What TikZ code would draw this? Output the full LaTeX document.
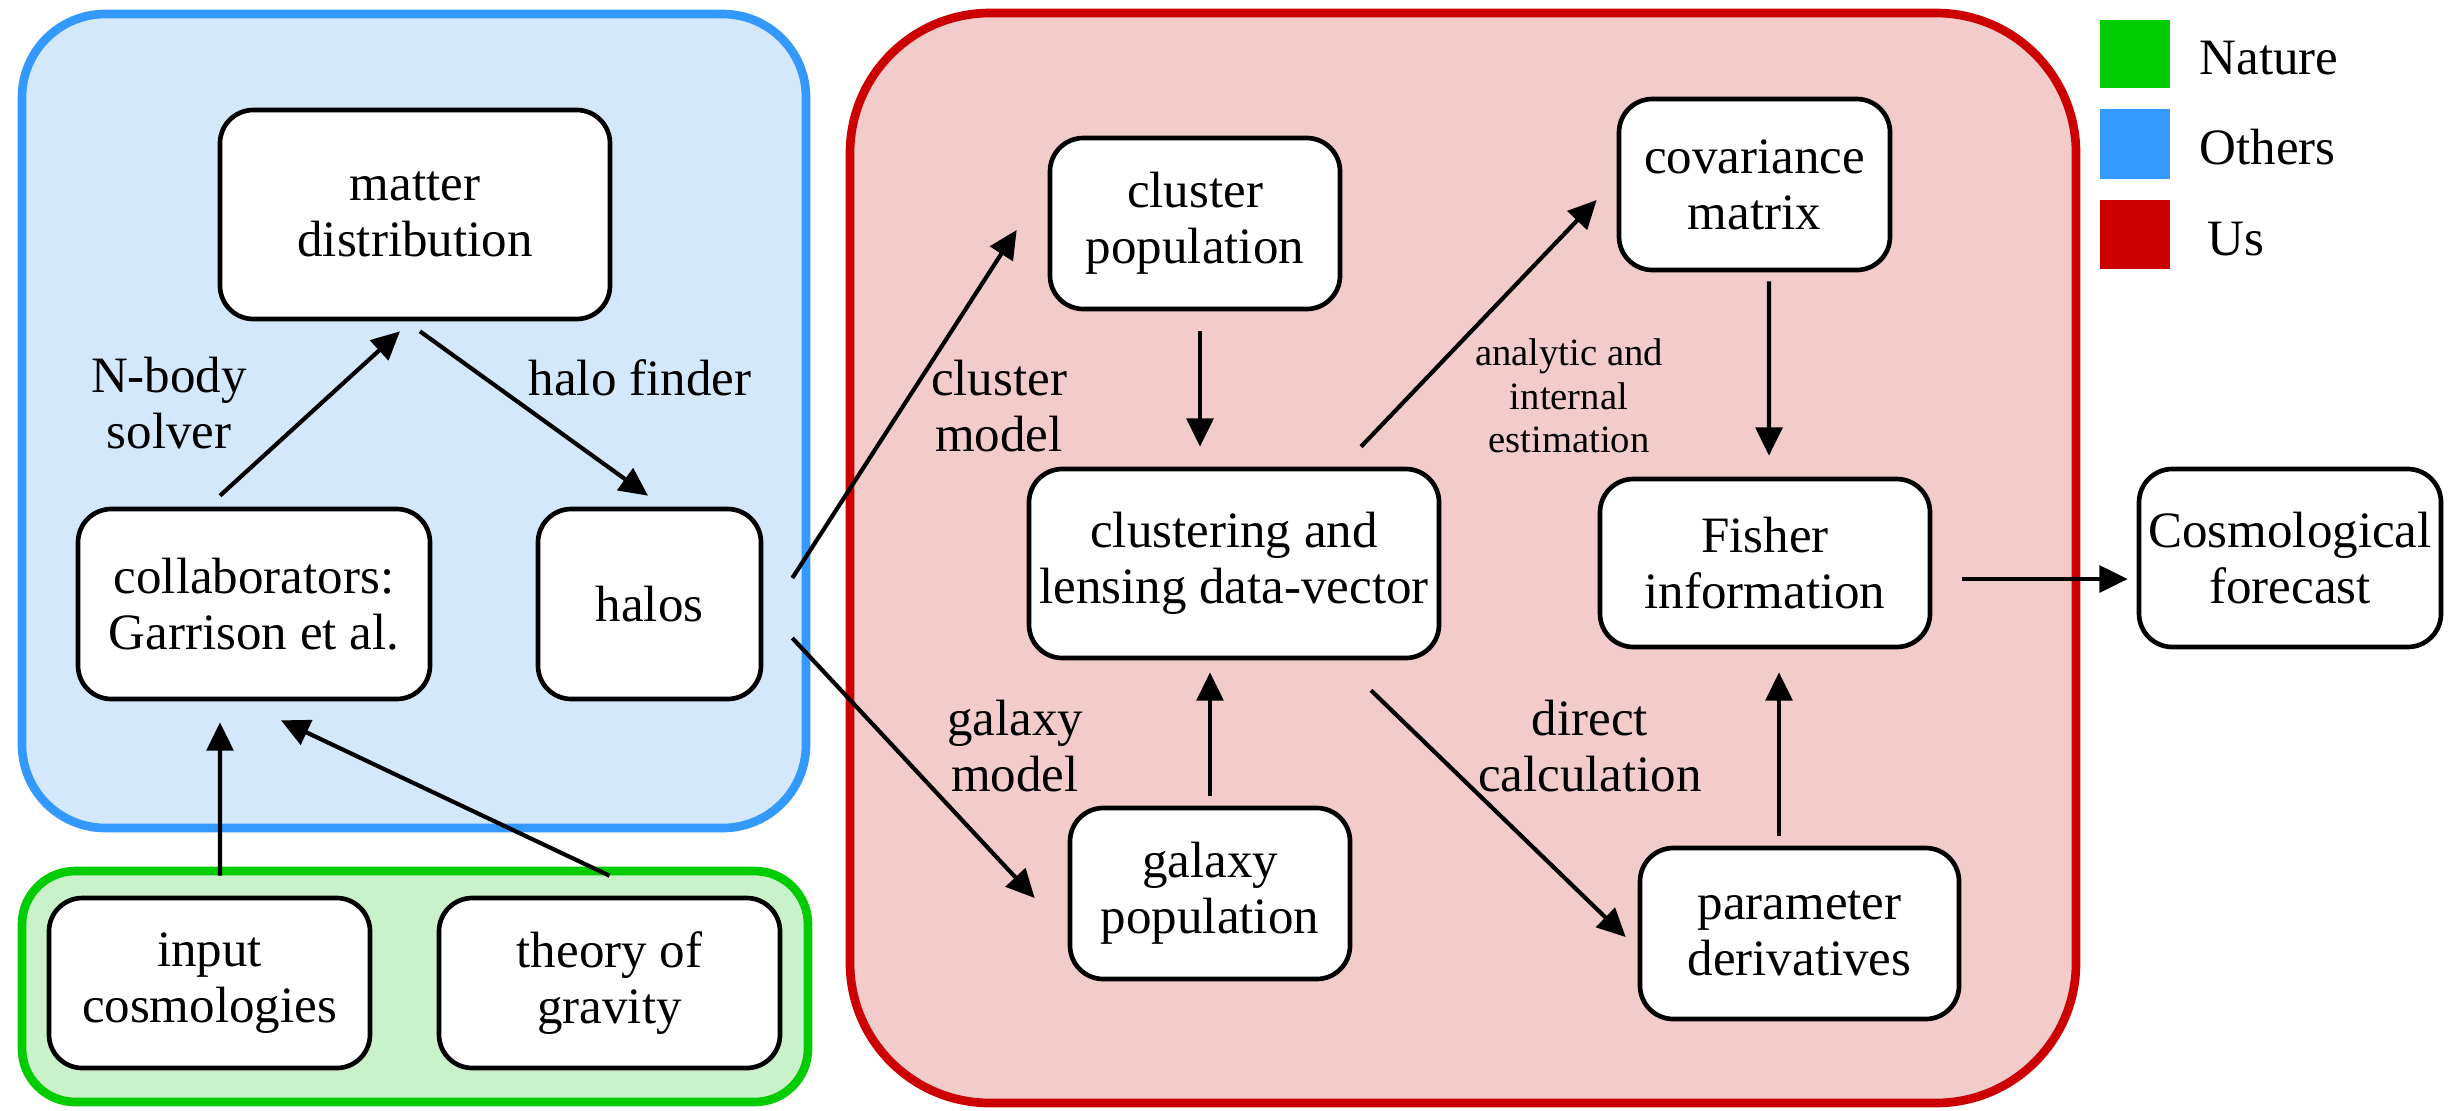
\documentclass[tikz,border=0pt]{standalone}
\usepackage{fontspec}
\setmainfont{Liberation Serif}
\usetikzlibrary{calc,arrows.meta}
\definecolor{bluefill}{HTML}{D4E8FC}
\definecolor{blueline}{HTML}{3399FF}
\definecolor{greenfill}{HTML}{C9F2CB}
\definecolor{greenline}{HTML}{00CC00}
\definecolor{redfill}{HTML}{F2CBCB}
\definecolor{redline}{HTML}{CC0000}
\begin{document}
\begin{tikzpicture}[x=0.3pt,y=-0.3pt,
  box/.style={draw=black, line width=1.4pt, fill=white, rounded corners=10pt, align=center,
    font=\fontsize{15.3}{16.8}\selectfont, inner sep=0pt},
  arr/.style={-{Triangle[length=8.5pt,width=8pt]}, line width=1.25pt},
  lbl/.style={align=center, font=\fontsize{15.3}{16.8}\selectfont, inner sep=0pt},
  small/.style={align=center, font=\fontsize{11.6}{13}\selectfont, inner sep=0pt},
  region/.style={line width=2.6pt}]
\useasboundingbox (0,0) rectangle (2457,1110);
% regions
\draw[region, draw=blueline, fill=bluefill, rounded corners=25pt] (22,14) rectangle (806,828);
\draw[region, draw=greenline, fill=greenfill, rounded corners=16pt] (22,871) rectangle (808,1102);
\draw[region, draw=redline, fill=redfill, rounded corners=42pt] (850,13) rectangle (2076,1103);
% legend
\fill[greenline] (2100,20) rectangle (2170,88);
\fill[blueline] (2100,109) rectangle (2170,179);
\fill[redline] (2100,200) rectangle (2170,269);
\node[lbl, anchor=west] (lnature) at (2199,58) {Nature};
\node[lbl, anchor=west] (lothers) at (2199,147) {Others};
\node[lbl, anchor=west] (lus) at (2207,239) {Us};
% boxes
\node[box, minimum width=117pt, minimum height=62.7pt] (matter) at (415,214.5) {matter\\distribution};
\node[box, minimum width=105.6pt, minimum height=57pt] (collab) at (254,604) {collaborators:\\Garrison et al.};
\node[box, minimum width=66.9pt, minimum height=57pt] (halos) at (649.5,604) {halos};
\node[box, minimum width=96.3pt, minimum height=51pt] (input) at (209.5,983) {input\\cosmologies};
\node[box, minimum width=102.3pt, minimum height=51pt] (theory) at (609.5,983) {theory of\\gravity};
\node[box, minimum width=87pt, minimum height=51.3pt] (cluster) at (1195,223.5) {cluster\\population};
\node[box, minimum width=81.3pt, minimum height=51.3pt] (cov) at (1754.5,184.5) {covariance\\matrix};
\node[box, minimum width=123pt, minimum height=56.7pt] (clustering) at (1234,563.5) {clustering and\\lensing data-vector};
\node[box, minimum width=99pt, minimum height=50.4pt] (fisher) at (1765,563) {Fisher\\information};
\node[box, minimum width=84pt, minimum height=51.3pt] (galaxy) at (1210,893.5) {galaxy\\population};
\node[box, minimum width=95.7pt, minimum height=51.3pt] (param) at (1799.5,933.5) {parameter\\derivatives};
\node[box, minimum width=90.6pt, minimum height=53.4pt] (cosmo) at (2290,558) {Cosmological\\forecast};
% labels
\node[lbl] (lnbody) at (169,403) {N-body\\solver};
\node[lbl] (lhalo) at (640,378) {halo finder};
\node[lbl] (lcluster) at (999,406) {cluster\\model};
\node[small] (lanalytic) at (1569,396) {analytic and\\internal\\estimation};
\node[lbl] (lgalaxy) at (1015,746) {galaxy\\model};
\node[lbl] (ldirect) at (1590,746) {direct\\calculation};
% arrows
\draw[arr] ($(collab.north)+(-34,-11)$) -- ($(matter.south)+(-15,10)$);
\draw[arr] ($(matter.south)+(5,10)$) -- ($(halos.north)+(-1.5,-11)$);
\draw[arr] ($(halos.east)+(29,-26)$) -- ($(cluster.west)+(-31,6.5)$);
\draw[arr] ($(halos.east)+(29,34)$) -- ($(galaxy.west)+(-33,4.5)$);
\draw[arr] ($(input.north)+(10.5,-20)$) -- ($(collab.south)+(-34,21)$);
\draw[arr] ($(theory.north)+(0,-20)$) -- ($(collab.south)+(27,19)$);
\draw[arr] ($(cluster.south)+(5,20)$) -- ($(clustering.north)+(-34,-20)$);
\draw[arr] ($(clustering.north)+(127,-20)$) -- ($(cov.west)+(-20,15.5)$);
\draw[arr] ($(cov.south)+(14.5,9)$) -- ($(fisher.north)+(4,-21)$);
\draw[arr] ($(galaxy.north)+(0,-10)$) -- ($(clustering.south)+(-24,12)$);
\draw[arr] ($(clustering.south)+(137,30)$) -- ($(param.west)+(-12,3.5)$);
\draw[arr] ($(param.north)+(-20.5,-10)$) -- ($(fisher.south)+(14,23)$);
\draw[arr] ($(fisher.east)+(30,16)$) -- ($(cosmo.west)+(-9,21)$);
\end{tikzpicture}
\end{document}
